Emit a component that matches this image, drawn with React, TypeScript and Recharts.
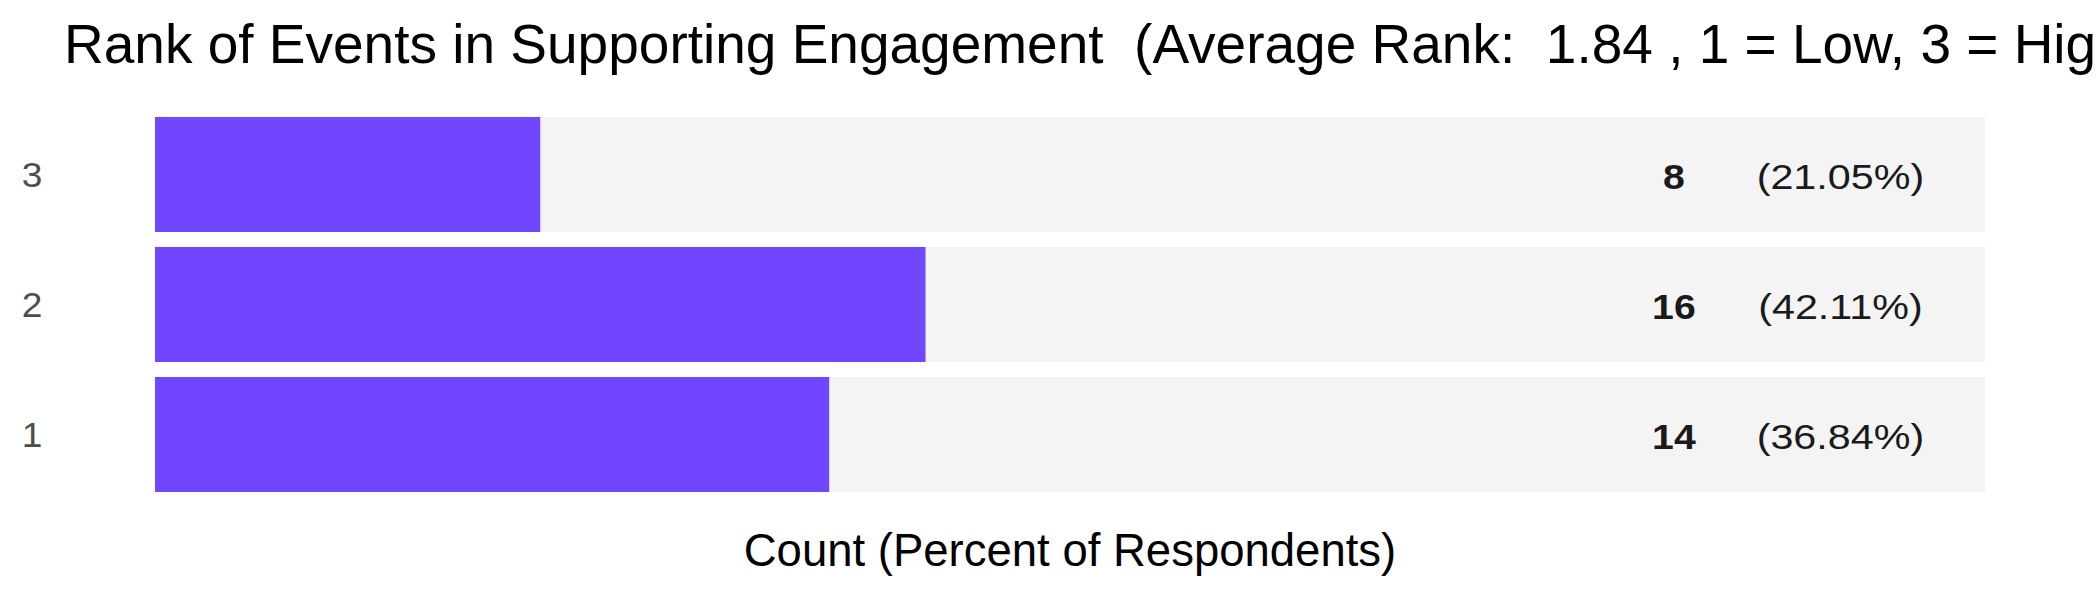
import React from "react";
import { BarChart, Bar, XAxis, YAxis, LabelList } from "recharts";

// ── Data ─────────────────────────────────────────────────────────────────────

const ranks = ["3", "2", "1"];
const counts = [8, 16, 14];
const percents = ["21.05%", "42.11%", "36.84%"];
const totalRespondents = 38;
const averageRank = "1.84";

const data = ranks.map((rank, i) => ({ rank, count: counts[i], pct: percents[i] }));

// ── Layout ───────────────────────────────────────────────────────────────────

const W = 2100;
const H = 600;
const Y_AXIS_W = 155;
const margin = { top: 109, right: 115, bottom: 0, left: 0 };
const X_AXIS_H = 101;
const PLOT_LEFT = margin.left + Y_AXIS_W;
const PLOT_W = W - PLOT_LEFT - margin.right;

const FONT = '"Liberation Sans", Arial, Helvetica, sans-serif';
const BAR_COLOR = "#7047ff";
const TRACK_COLOR = "#f4f4f4";

// ── Pieces ───────────────────────────────────────────────────────────────────

const RankTick = ({ y, payload }: any) => (
  <text
    transform={`translate(32, ${y + 13}) scale(1.06, 1)`}
    textAnchor="middle"
    fontSize={35}
    fill="#4d4d4d"
    fontFamily={FONT}
  >
    {payload.value}
  </text>
);

const labelAt = (frac: number, bold: boolean, stretch: number) => (props: any) => {
  const vb = props.viewBox ?? props;
  const cy = vb.y + vb.height / 2;
  const cx = PLOT_LEFT + PLOT_W * frac;
  const text = bold ? String(props.value) : `(${props.value})`;
  return (
    <text
      transform={`translate(${cx}, ${cy + 14}) scale(${stretch}, 1)`}
      textAnchor="middle"
      fontSize={35}
      fontWeight={bold ? "bold" : "normal"}
      fill="#1a1a1a"
      fontFamily={FONT}
    >
      {text}
    </text>
  );
};

export default function App() {
  return (
    <div style={{ position: "absolute", left: 0, top: 0, width: W, height: H, background: "#fff" }}>
      <svg
        width={W}
        height={110}
        style={{ position: "absolute", left: 0, top: 0, pointerEvents: "none" }}
      >
        <text x={64} y={63} fontSize={55} fill="#000" fontFamily={FONT} style={{ whiteSpace: "pre" }}>
          {`Rank of Events in Supporting Engagement  (Average Rank:  ${averageRank} , 1 = Low, 3 = High)`}
        </text>
      </svg>
      <BarChart width={W} height={H} data={data} layout="vertical" margin={margin}>
        <XAxis
          type="number"
          domain={[0, totalRespondents]}
          tick={false}
          axisLine={false}
          tickLine={false}
          height={X_AXIS_H}
          label={{
            value: "Count (Percent of Respondents)",
            position: "insideBottom",
            offset: 34,
            fontSize: 45.5,
            fill: "#000",
            fontFamily: FONT,
          }}
        />
        <YAxis
          type="category"
          dataKey="rank"
          width={Y_AXIS_W}
          axisLine={false}
          tickLine={false}
          tick={<RankTick />}
        />
        <Bar
          dataKey="count"
          fill={BAR_COLOR}
          background={{ fill: TRACK_COLOR }}
          barSize={115}
          isAnimationActive={false}
        >
          <LabelList dataKey="count" content={labelAt(0.83, true, 1.12)} />
          <LabelList dataKey="pct" content={labelAt(0.921, false, 1.18)} />
        </Bar>
      </BarChart>
    </div>
  );
}
